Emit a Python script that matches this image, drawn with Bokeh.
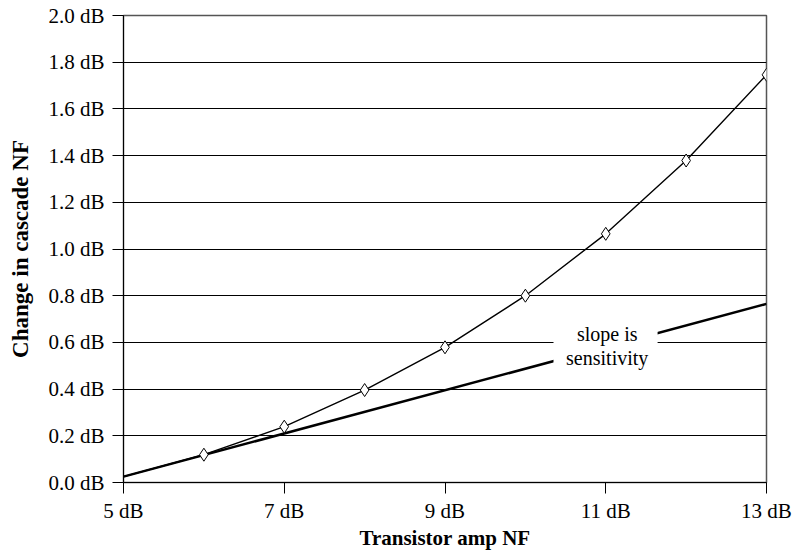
from bokeh.plotting import figure
from bokeh.models import Range1d, FixedTicker, PrintfTickFormatter
from bokeh.embed import file_html
from bokeh.resources import INLINE
from bokeh.core.properties import value

# data
amp_nf = [5, 6, 7, 8, 9, 10, 11, 12, 13]
cascade_change = [0.025, 0.119, 0.239, 0.396, 0.579, 0.800, 1.065, 1.379, 1.746]
marker_nf = [6, 7, 8, 9, 10, 11, 12, 13]
marker_change = [0.119, 0.239, 0.396, 0.579, 0.800, 1.065, 1.379, 1.746]
tangent_nf = [5, 13]
tangent_change = [0.025, 0.765]
x_ticks = [5, 7, 9, 11, 13]
y_ticks = [0.0, 0.2, 0.4, 0.6, 0.8, 1.0, 1.2, 1.4, 1.6, 1.8, 2.0]
note_lines = ["slope is", "sensitivity"]

FONT = "Liberation Serif"

p = figure(width=792, height=554, output_backend="svg", toolbar_location=None,
           x_range=Range1d(5, 13), y_range=Range1d(0, 2.0),
           min_border_left=123, min_border_right=26, min_border_top=15, min_border_bottom=72)

p.background_fill_color = "white"
p.border_fill_color = "white"
p.outline_line_color = "#555555"
p.outline_line_width = 1.5

# grid
p.xgrid.visible = False
p.ygrid.ticker = FixedTicker(ticks=y_ticks)
p.ygrid.grid_line_color = "black"
p.ygrid.grid_line_width = 1

# axes
p.xaxis.ticker = FixedTicker(ticks=x_ticks)
p.yaxis.ticker = FixedTicker(ticks=y_ticks)
p.xaxis.formatter = PrintfTickFormatter(format="%d dB")
p.yaxis.formatter = PrintfTickFormatter(format="%.1f dB")
for ax in (p.xaxis, p.yaxis):
    ax.axis_line_color = "black"
    ax.axis_line_width = 1
    ax.major_tick_line_color = "black"
    ax.major_tick_out = 11
    ax.major_tick_in = 0
    ax.minor_tick_line_color = None
    ax.major_label_text_font = FONT
    ax.major_label_text_font_size = "21px"
    ax.major_label_text_color = "black"
    ax.major_label_standoff = 8
    ax.axis_label_text_font = FONT
    ax.axis_label_text_font_style = "bold"
    ax.axis_label_text_color = "black"
p.xaxis.axis_label = "Transistor amp NF"
p.yaxis.axis_label = "Change in cascade NF"
p.xaxis.axis_label_text_font_size = "21px"
p.yaxis.axis_label_text_font_size = "23px"
p.xaxis.major_label_standoff = 5
p.xaxis.axis_label_standoff = 0
p.yaxis.axis_label_standoff = 12

# curves
p.line(amp_nf, cascade_change, line_color="black", line_width=1.4)
p.line(tangent_nf, tangent_change, line_color="black", line_width=2.5)
p.scatter(marker_nf, marker_change, marker="diamond", size=13,
          fill_color="white", line_color="black", line_width=1)

# annotation box
p.quad(left=[10.35], right=[11.645], bottom=[0.47], top=[0.672],
       fill_color="white", line_color=None)
p.text(x=[11.018, 11.018], y=[0.638, 0.535], text=note_lines,
       text_font=value(FONT), text_font_size="20px", text_color="black",
       text_align="center", text_baseline="middle")

open("out.html", "w").write(file_html(p, INLINE))
